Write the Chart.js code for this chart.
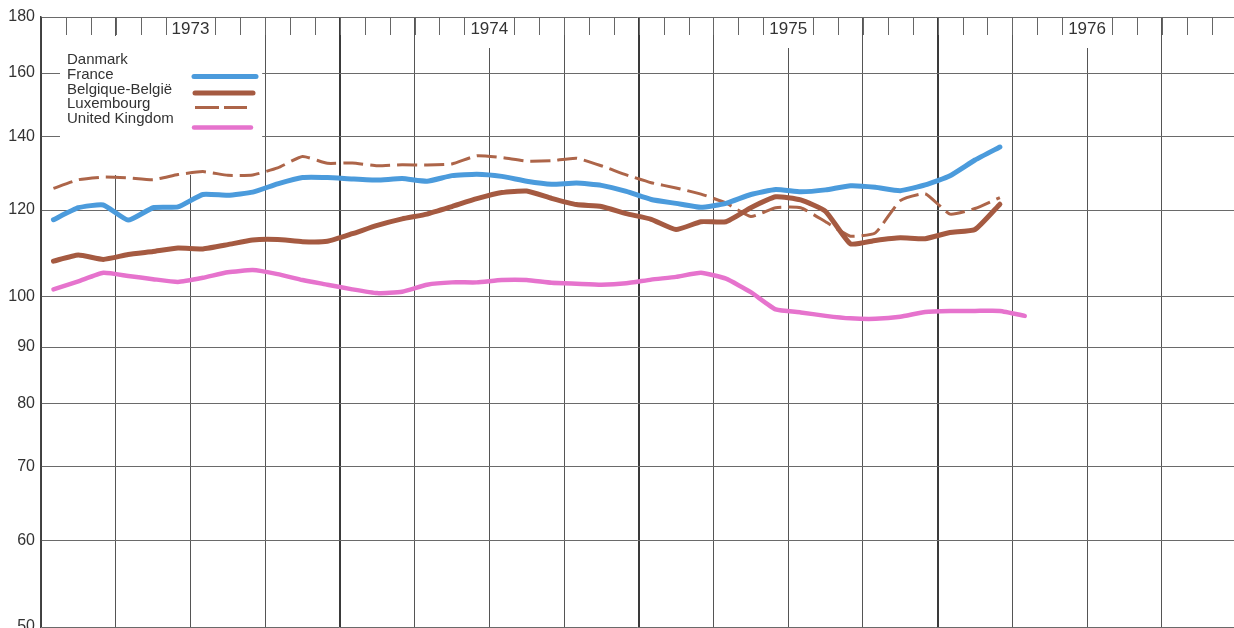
<!DOCTYPE html>
<html>
<head>
<meta charset="utf-8">
<script src="https://cdn.jsdelivr.net/npm/chart.js@4"></script>
<style>
html,body{margin:0;padding:0;background:#fff;}
#wrap{width:1234px;height:628px;position:relative;}
</style>
</head>
<body>
<div id="wrap"><canvas id="c"></canvas></div>
<script>
// ---- data (monthly, index base 1973 = 100, log scale) ----
const months = [
  "1973-01","1973-02","1973-03","1973-04","1973-05","1973-06","1973-07","1973-08","1973-09","1973-10","1973-11","1973-12",
  "1974-01","1974-02","1974-03","1974-04","1974-05","1974-06","1974-07","1974-08","1974-09","1974-10","1974-11","1974-12",
  "1975-01","1975-02","1975-03","1975-04","1975-05","1975-06","1975-07","1975-08","1975-09","1975-10","1975-11","1975-12",
  "1976-01","1976-02","1976-03","1976-04"
];
const france = [117.6,120.6,121.3,117.5,120.6,120.8,124.0,123.8,124.6,126.8,128.5,128.5,
  128.1,127.8,128.2,127.5,129.0,129.4,128.8,127.5,126.7,127.0,126.4,124.8,
  122.7,121.7,120.7,121.7,124.0,125.3,124.7,125.2,126.3,125.9,125.0,126.5,
  129.0,133.3,137.0];
const belgium = [107.8,109.2,108.2,109.3,110.0,110.8,110.6,111.6,112.7,112.8,112.3,112.4,
  114.2,116.2,117.8,119.0,120.9,122.9,124.5,124.9,123.0,121.4,120.9,119.1,
  117.7,115.2,117.1,117.1,120.6,123.4,122.6,119.7,111.8,112.6,113.2,113.0,
  114.5,115.2,121.5];
const luxembourg = [125.6,127.9,128.6,128.4,127.9,129.3,130.1,129.1,129.2,131.1,134.3,132.4,
  132.5,131.7,132.0,131.9,132.2,134.5,134.0,133.0,133.1,133.8,131.7,129.2,
  127.1,125.7,124.1,121.8,118.4,120.6,120.6,117.1,113.6,114.4,122.4,124.2,
  119.0,120.4,123.2];
const unitedKingdom = [101.6,103.3,105.2,104.5,103.8,103.2,104.1,105.3,105.8,104.9,103.6,102.6,
  101.6,100.8,101.1,102.6,103.1,103.1,103.6,103.6,103.0,102.8,102.6,102.9,
  103.7,104.3,105.2,103.9,101.0,97.4,96.8,96.1,95.6,95.5,95.9,96.9,
  97.1,97.1,97.1,96.1];
const yTicks = [50,60,70,80,90,100,120,140,160,180];
const yearLabels = ["1973","1974","1975","1976"];
const legendNames = ["Danmark","France","Belgique-België","Luxembourg","United Kingdom"];

// ---- helpers ----
function monthPos(label){
  const p = label.split('-').map(Number);
  return (p[0]-1973)*12 + (p[1]-1) + 0.5; // mid-month, months since Jan 1973
}
function pts(series){ return series.map((v,i)=>({x:monthPos(months[i]), y:v})); }

const FONT = '"Liberation Sans", Arial, Helvetica, sans-serif';

const decor = {
  id:'decor',
  beforeDatasetsDraw(chart){
    const {ctx, chartArea:ca, scales:{x}} = chart;
    ctx.save();
    // blank area behind legend
    ctx.fillStyle = '#fff';
    const bx0 = 60, bx1 = x.getPixelForValue(9) - 3;
    ctx.fillRect(bx0, ca.top + 19, bx1 - bx0, 139);
    // gaps for year labels (mid-year lines start below label)
    yearLabels.forEach((yl,i)=>{
      const px = x.getPixelForValue(i*12+6);
      ctx.fillRect(px-4, ca.top+1, 8, 30);
    });
    // monthly ticks hanging from top border
    ctx.strokeStyle = '#666';
    ctx.lineWidth = 1;
    ctx.beginPath();
    for(let m=1;m<48;m++){
      if(m%12===6) continue;
      const px = Math.round(x.getPixelForValue(m))+0.5;
      if(px>ca.right) continue;
      ctx.moveTo(px, ca.top);
      ctx.lineTo(px, ca.top+18);
    }
    ctx.stroke();
    // year labels
    ctx.fillStyle = '#333';
    ctx.font = '17px ' + FONT;
    ctx.textAlign = 'center';
    ctx.textBaseline = 'middle';
    yearLabels.forEach((yl,i)=>{
      ctx.fillText(yl, x.getPixelForValue(i*12+6), ca.top+12);
    });
    // legend
    ctx.font = '15px ' + FONT;
    ctx.textAlign = 'left';
    ctx.fillStyle = '#333';
    const textY = [60,75,90,104,119];
    legendNames.forEach((n,i)=>ctx.fillText(n, 67, textY[i]));
    const samples = [
      {ds:0, x0:194, x1:256, y:76.5},
      {ds:1, x0:195, x1:253, y:93},
      {ds:2, x0:195, x1:247, y:107.5, dash:[24,5]},
      {ds:3, x0:194, x1:251, y:127.5}
    ];
    samples.forEach(s=>{
      const d = chart.data.datasets[s.ds];
      ctx.strokeStyle = d.borderColor;
      ctx.lineWidth = d.borderWidth;
      ctx.setLineDash(s.dash || []);
      ctx.lineCap = s.dash ? 'butt' : 'round';
      ctx.beginPath();
      ctx.moveTo(s.x0, s.y);
      ctx.lineTo(s.x1, s.y);
      ctx.stroke();
    });
    ctx.restore();
  }
};

new Chart(document.getElementById('c'), {
  type:'line',
  data:{
    datasets:[
      {label:'France', data:pts(france), borderColor:'#4b9bdc', borderWidth:5},
      {label:'Belgique-België', data:pts(belgium), borderColor:'#a55a41', borderWidth:5},
      {label:'Luxembourg', data:pts(luxembourg), borderColor:'#ad6549', borderWidth:3, borderDash:[20,7], borderCapStyle:'butt'},
      {label:'United Kingdom', data:pts(unitedKingdom), borderColor:'#e673cd', borderWidth:4.5}
    ]
  },
  options:{
    responsive:true,
    maintainAspectRatio:false,
    animation:false,
    layout:{padding:{top:17,bottom:1,left:0,right:0}},
    elements:{
      point:{radius:0},
      line:{tension:0.15, borderJoinStyle:'round', borderCapStyle:'round', fill:false}
    },
    plugins:{legend:{display:false}, tooltip:{enabled:false}},
    scales:{
      x:{
        type:'linear', min:0, max:47.9,
        afterBuildTicks(s){ const t=[]; for(let m=0;m<=45;m+=3) t.push({value:m}); s.ticks=t; },
        afterFit(s){ s.height=0; s.paddingLeft=0; s.paddingRight=0; },
        ticks:{display:false},
        border:{display:false},
        grid:{
          drawTicks:false,
          color:(c)=> (c.tick && c.tick.value%12===0) ? '#3a3a3a' : '#555',
          lineWidth:(c)=> (c.tick && c.tick.value%12===0) ? 2 : 1
        }
      },
      y:{
        type:'logarithmic', min:50, max:180,
        afterBuildTicks(s){ s.ticks = yTicks.map(v=>({value:v})); },
        afterFit(s){ s.width=41; s.paddingTop=0; s.paddingBottom=0; },
        ticks:{
          autoSkip:false, padding:6, color:'#333',
          font:{family:FONT, size:16},
          callback:(v)=> String(v)
        },
        border:{display:true, color:'#444', width:1.5},
        grid:{drawTicks:false, color:'#6a6a6a', lineWidth:1}
      }
    }
  },
  plugins:[decor]
});
</script>
</body>
</html>
